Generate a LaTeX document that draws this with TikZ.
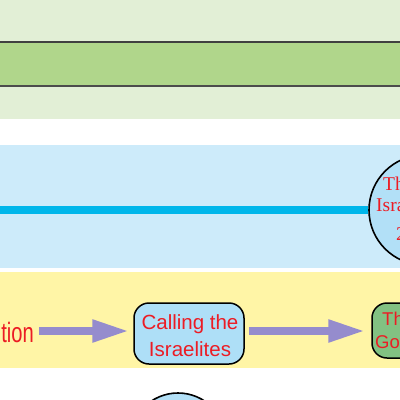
\documentclass[tikz,border=0pt]{standalone}
\usepackage{fontspec}
\setmainfont{Liberation Sans}
\newfontfamily\serifface{Liberation Serif}
\usetikzlibrary{arrows.meta}
\definecolor{lightgreen}{HTML}{E2EFD6}
\definecolor{midgreen}{HTML}{B0D68B}
\definecolor{bandblue}{HTML}{CDEBFA}
\definecolor{circblue}{HTML}{B2E0F7}
\definecolor{boxblue}{HTML}{AEDFF7}
\definecolor{bandyellow}{HTML}{FFF5A6}
\definecolor{boxgreen}{HTML}{82C182}
\definecolor{cyanline}{HTML}{00B6EA}
\definecolor{txtred}{HTML}{EC1C24}
\definecolor{arrowpurple}{HTML}{958CCD}
\tikzset{
  bigarrow/.style={draw=arrowpurple, line width=8pt, -{Triangle[length=37pt,width=21pt]}},
  roundbox/.style={draw=black, line width=1.5pt, rounded corners=15pt, inner sep=0pt},
  redsans/.style={text=txtred, font=\fontsize{20.5}{24}\selectfont, align=center},
  redserif/.style={text=txtred, font=\serifface\fontsize{19.5}{22}\selectfont, inner sep=0pt}
}
\begin{document}
\begin{tikzpicture}[x=1pt,y=-1pt]
\useasboundingbox (0,0) rectangle (400,400);
\clip (0,0) rectangle (400,400);
% top green bands
\fill[lightgreen] (0,0) rectangle (400,119);
\fill[midgreen] (0,42) rectangle (400,86);
\draw[black!75, line width=1.2pt] (0,42) -- (400,42);
\draw[black!70, line width=1.4pt] (0,86) -- (400,86);
% blue band
\fill[bandblue] (0,145) rectangle (400,268);
\node[draw=black, line width=1.6pt, fill=circblue, circle, minimum size=110pt, inner sep=0pt] (c1) at (424,210) {};
\draw[cyanline, line width=8pt] (0,210) coordinate (lstart) -- (c1.west |- 0,210);
\node[redserif, anchor=base west] (ct1) at (383,190) {Th};
\node[redserif, anchor=base west] (ct2) at (376,211) {Isra};
\node[redserif, anchor=base west] (ct3) at (396,240) {2};
% yellow band
\fill[bandyellow] (0,272) rectangle (400,368);
\node[anchor=base east, text=txtred, inner sep=0pt, font=\fontsize{28}{30}\selectfont] (tion) at (34,342) {\scalebox{0.72}[1]{tion}};
\node[roundbox, fill=boxblue, minimum width=110pt, minimum height=61pt] (r1) at (189,333.5) {};
\node[redsans, anchor=base, inner sep=0pt] (r1a) at (190,329) {Calling the};
\node[redsans, anchor=base, inner sep=0pt] (r1b) at (190,356) {Israelites};
\node[roundbox, fill=boxgreen, minimum width=110pt, minimum height=55pt] (r2) at (427,330.5) {};
\node[text=txtred, font=\fontsize{18.5}{22}\selectfont, anchor=base west, inner sep=0pt] (r2a) at (382,325) {Th};
\node[text=txtred, font=\fontsize{18.5}{22}\selectfont, anchor=base west, inner sep=0pt] (r2b) at (375,348) {Gov};
\draw[bigarrow, shorten <=5pt, shorten >=4pt] (tion.east |- 0,331) -- (r1.west |- 0,331);
\draw[bigarrow, shorten <=4pt, shorten >=6pt] (r1.east |- 0,331) -- (r2.west |- 0,331);
% bottom circle
\node[draw=black, line width=1.6pt, fill=circblue, circle, minimum size=96pt, inner sep=0pt] (c2) at (178,441) {};
\end{tikzpicture}
\end{document}
